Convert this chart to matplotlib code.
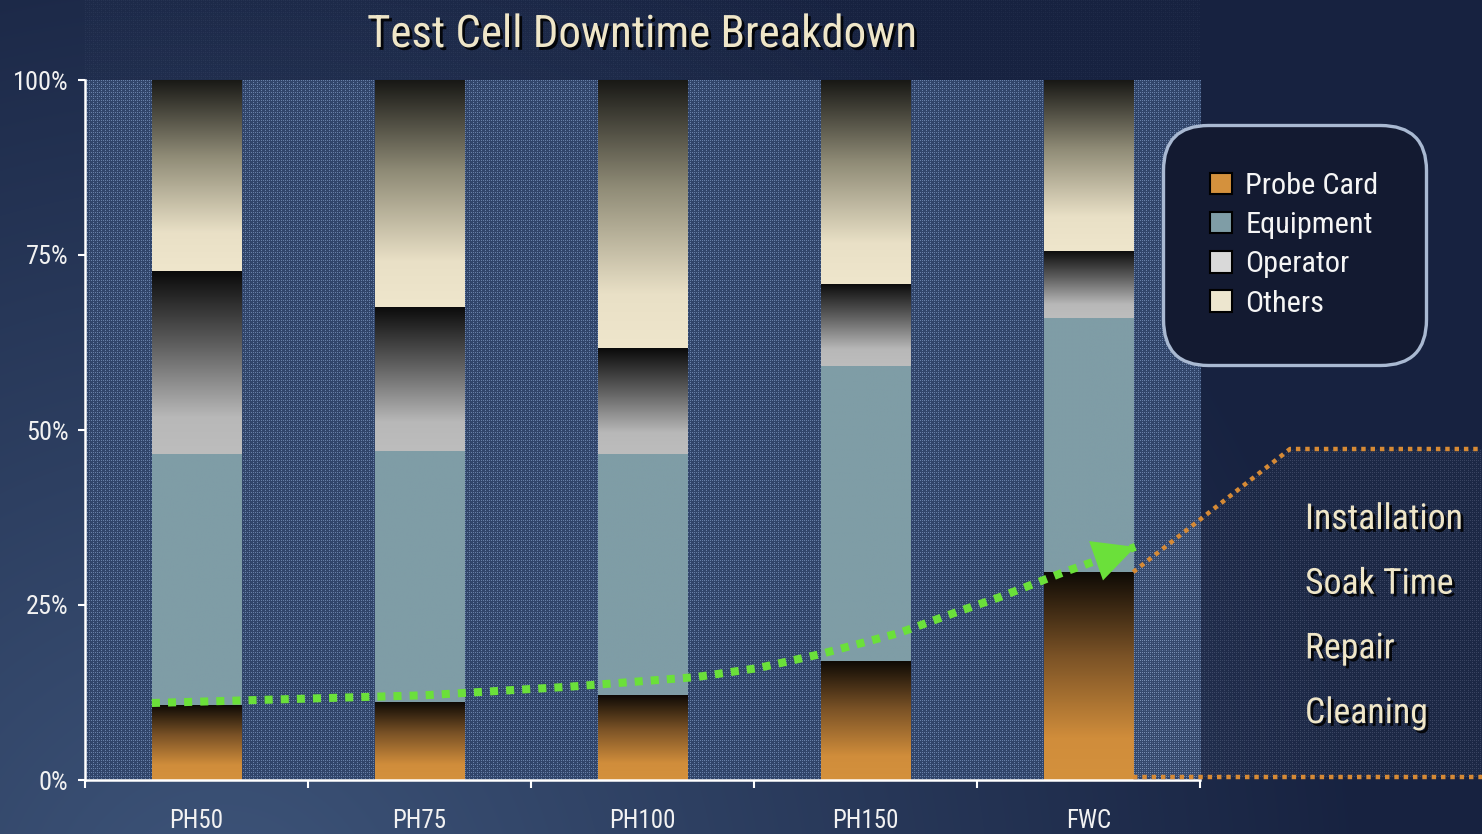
import numpy as np
import matplotlib
matplotlib.use('Agg')
import matplotlib.pyplot as plt
import matplotlib.patheffects as pe
from matplotlib import font_manager
from matplotlib.colors import LinearSegmentedColormap, to_rgb
from matplotlib.patches import Patch, Polygon

W, H = 1482, 834

# the original uses a narrow sans; pick what is installed and scale sizes to match widths
installed = {f.name for f in font_manager.fontManager.ttflist}
if 'Liberation Sans Narrow' in installed:
    FAMILY, K = 'Liberation Sans Narrow', 1.0
elif 'Roboto Condensed' in installed:
    FAMILY, K = 'Roboto Condensed', 0.95
else:
    FAMILY, K = 'Liberation Sans', 0.84
plt.rcParams['font.family'] = [FAMILY, 'DejaVu Sans']

# data (percent of downtime)
categories = ['PH50', 'PH75', 'PH100', 'PH150', 'FWC']
probe_card = [10.7, 11.1, 12.1, 17.0, 29.7]
equipment = [35.9, 35.9, 34.5, 42.1, 36.3]
operator = [26.1, 20.6, 15.1, 11.8, 9.6]
others = [27.3, 32.4, 38.3, 29.1, 24.4]
series_names = ['Probe Card', 'Equipment', 'Operator', 'Others']
y_ticks = [0, 25, 50, 75, 100]
y_tick_labels = ['0%', '25%', '50%', '75%', '100%']
callout_items = ['Installation', 'Soak Time', 'Repair', 'Cleaning']
# green trend arrow (category position, percent)
trend_x = [-0.20, 1.02, 1.66, 2.24, 2.52, 2.80, 3.15, 3.41, 3.60, 3.89, 4.21]
trend_y = [11.0, 12.1, 13.3, 14.7, 16.0, 18.0, 21.0, 24.0, 26.1, 29.7, 33.3]

legend_colors = ['#d4913d', '#7f9da6', '#d9d9d9', '#ede6cf']
# gradients go bottom -> top
grad_stops = [
    [(0, '#d4913d'), (0.2, '#d08d3b'), (0.6, '#7a5226'), (1, '#0e0a05')],
    [(0, '#7f9da6'), (1, '#7f9da6')],
    [(0, '#bdbdbd'), (0.2, '#b8b8b8'), (0.6, '#5e5e5e'), (1, '#0a0a0a')],
    [(0, '#efe6cc'), (0.2, '#e9e0c6'), (0.6, '#8f8b76'), (1, '#181815')],
]

def texture(h, w):
    # small lattice of light dots like the slide's fabric pattern
    i, j = np.mgrid[0:h, 0:w]
    return (((i % 4 == 0) & (j % 2 == 0)) | ((j % 4 == 0) & (i % 2 == 0))).astype(float)

fig = plt.figure(figsize=(W / 100, H / 100), dpi=100)

# background gradient
bg = fig.add_axes([0, 0, 1, 1], zorder=-10)
bg.set_axis_off()
yy, xx = np.mgrid[0:H, 0:W]
d = np.sqrt(((xx - 0.15 * W) / 1150.0) ** 2 + ((yy - 1.1 * H) / 1100.0) ** 2)
t = np.clip(1 - d, 0, 1)[..., None]
dark = np.array(to_rgb('#172240'))
light = np.array(to_rgb('#3e557a'))
img = dark + (light - dark) * t
img[:80, 85:1200] += texture(80, 1115)[..., None] * 0.035
bg.imshow(np.clip(img, 0, 1), extent=[0, W, H, 0], interpolation='nearest', aspect='auto')
bg.set_xlim(0, W)
bg.set_ylim(H, 0)

# main axes
ax = fig.add_axes([85 / W, 54 / H, 1115 / W, 700 / H])
ax.patch.set_alpha(0)
tex = texture(700, 1115)[..., None]
d2 = np.array(to_rgb('#31456a'))
l2 = np.array(to_rgb('#6880a8'))
ax.imshow(d2 + (l2 - d2) * tex, extent=[-0.5, 4.5, 0, 100], aspect='auto',
          interpolation='nearest', zorder=0)

x = np.arange(len(categories))
bottom = np.zeros(len(categories))
for vals, stops in zip([probe_card, equipment, operator, others], grad_stops):
    cmap = LinearSegmentedColormap.from_list('g', stops)
    grad = cmap(np.linspace(0, 1, 256)).reshape(256, 1, 4)
    bars = ax.bar(x, vals, width=0.4, bottom=bottom, color='none', linewidth=0, zorder=2)
    for p in bars:
        x0, y0, w, h = p.get_x(), p.get_y(), p.get_width(), p.get_height()
        ax.imshow(grad, extent=[x0, x0 + w, y0, y0 + h], origin='lower', aspect='auto',
                  interpolation='bilinear', zorder=2)
    bottom += np.array(vals)

# trend arrow
green = '#6be03a'
ax.plot(trend_x, trend_y, color=green, lw=5.8, dashes=(1, 1), dash_capstyle='butt', zorder=5)
ax.annotate('', xy=(trend_x[-1], trend_y[-1]), xytext=(trend_x[-2], trend_y[-2]),
            arrowprops=dict(arrowstyle='-|>,head_length=1.0,head_width=0.5', mutation_scale=30,
                            color=green, lw=0, shrinkA=0, shrinkB=0), zorder=6)

ax.set_xlim(-0.5, 4.5)
ax.set_ylim(0, 100)
for s in ['top', 'right']:
    ax.spines[s].set_visible(False)
for s in ['left', 'bottom']:
    ax.spines[s].set_color('white')
    ax.spines[s].set_linewidth(1.8)

ax.set_yticks(y_ticks, y_tick_labels)
ax.tick_params(axis='y', direction='out', length=5, width=1.5, color='white',
               labelcolor='#f2f2f2', labelsize=19, pad=7)
ax.set_xticks(np.arange(-0.5, 5, 1))
ax.set_xticks(x, categories, minor=True)
ax.tick_params(axis='x', which='major', length=6, width=1.5, color='white', labelbottom=False)
ax.tick_params(axis='x', which='minor', length=0, labelsize=18, labelcolor='#f2f2f2', pad=21)

# legend
handles = [Patch(facecolor=c, edgecolor='black', linewidth=1.5, label=n)
           for c, n in zip(legend_colors, series_names)]
leg_fs = 22.5 * (K / 0.95 if K < 1 else 1.0) * 0.97
leg = ax.legend(handles=handles, loc='upper left', bbox_to_anchor=(1163 / W, 1 - 125 / H),
                bbox_transform=fig.transFigure, borderaxespad=0, frameon=True,
                prop=dict(size=leg_fs), labelcolor='#f5f5f5',
                handlelength=0.72, handleheight=0.72,
                handletextpad=0.45, labelspacing=0.37, borderpad=1.55, fancybox=True)
frame = leg.get_frame()
frame.set_facecolor('#131a31')
frame.set_edgecolor('#a9b9d2')
frame.set_linewidth(2.4)
frame.set_alpha(1)
frame.set_boxstyle('round', pad=0, rounding_size=1.5)

# callout overlay (pixel coordinates)
ov = fig.add_axes([0, 0, 1, 1], zorder=5)
ov.set_axis_off()
ov.patch.set_alpha(0)
ov.set_xlim(0, W)
ov.set_ylim(H, 0)
ax_disp = ax.transData.transform((x[-1] + 0.2, probe_card[-1]))
ax0 = ax.transData.transform((0, 0))
anc_x, anc_y = ax_disp[0], H - ax_disp[1]
bot_y = H - ax0[1] - 3
verts = [(anc_x, anc_y), (1290, 449), (W + 5, 449), (W + 5, bot_y), (anc_x, bot_y)]
poly = Polygon(verts, closed=True, facecolor='none', edgecolor='none')
ov.add_patch(poly)
ctex = texture(H, W)
rgba = np.zeros((H, W, 4))
rgba[..., :3] = np.where(ctex[..., None] > 0, np.array(to_rgb('#b4c0d8')), np.array(to_rgb('#7a8aa6')))
rgba[..., 3] = np.where(ctex > 0, 0.22, 0.06)
im = ov.imshow(rgba, extent=[0, W, H, 0], interpolation='nearest', aspect='auto', zorder=1)
im.set_clip_path(poly)
orange = '#d68a35'
ov.plot([anc_x, 1290, W + 5], [anc_y, 449, 449], color=orange, lw=3.2, dashes=(1, 1.1),
        dash_capstyle='butt', zorder=2)
ov.plot([anc_x, W + 5], [bot_y, bot_y], color=orange, lw=3.2, dashes=(1, 1.1),
        dash_capstyle='butt', zorder=2)

shadow = [pe.withSimplePatchShadow(offset=(2, -2), shadow_rgbFace='black', alpha=0.85)]
callout_fs = 28 * (0.92 if K == 0.95 else K)
for i, item in enumerate(callout_items):
    ov.text(1305, 519 + i * 64.7, item, ha='left', va='center', fontsize=callout_fs,
            color='#efe6c8', path_effects=shadow, zorder=3)

fig.text(642 / W, 1 - 35 / H, 'Test Cell Downtime Breakdown', ha='center', va='center',
         fontsize=34 * K, color='#efe6c8', path_effects=shadow)

fig.savefig('out.png', dpi=100)
